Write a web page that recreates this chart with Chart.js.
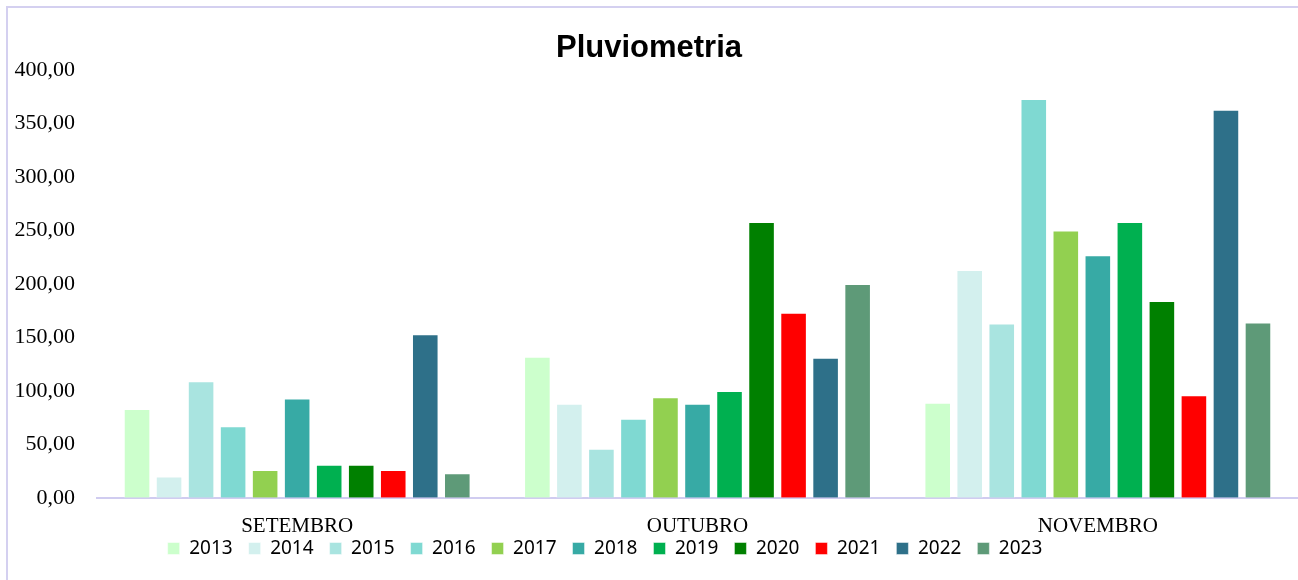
<!DOCTYPE html>
<html>
<head>
<meta charset="utf-8">
<script src="https://cdn.jsdelivr.net/npm/chart.js@4"></script>
<style>
  body { margin: 0; background: #fff; }
  #frame { position: absolute; left: 6px; top: 6px; width: 1292px; height: 574px;
           border-top: 2px solid #d4d0f0; border-left: 2px solid #d4d0f0; box-sizing: border-box; }
  #myChart { position: absolute; left: 0; top: 0; }
</style>
</head>
<body>
<div id="frame"></div>
<canvas id="myChart" width="1298" height="580"></canvas>
<script>
// months on the x axis
var months = ['SETEMBRO', 'OUTUBRO', 'NOVEMBRO'];

// rainfall per year [set, out, nov]
var y2013 = [83, 132, 89];
var y2014 = [20, 88, 213];
var y2015 = [109, 46, 163];
var y2016 = [67, 74, 373];
var y2017 = [26, 94, 250];
var y2018 = [93, 88, 227];
var y2019 = [31, 100, 258];
var y2020 = [31, 258, 184];
var y2021 = [26, 173, 96];
var y2022 = [153, 131, 363];
var y2023 = [23, 200, 164];

var years = ['2013', '2014', '2015', '2016', '2017', '2018', '2019', '2020', '2021', '2022', '2023'];
var values = [y2013, y2014, y2015, y2016, y2017, y2018, y2019, y2020, y2021, y2022, y2023];
var colors = ['#ccffcc', '#d3f0ee', '#a9e4e0', '#7fd9d2', '#92d050', '#37aaa5',
              '#00b050', '#008000', '#ff0000', '#2e7089', '#5e9a78'];

var datasets = years.map(function (y, i) {
  return {
    label: y,
    data: values[i],
    backgroundColor: colors[i],
    borderColor: 'rgba(255,255,255,0.45)',
    borderWidth: 1,
    categoryPercentage: 0.88,
    barPercentage: 0.83
  };
});

// legend sits closer to the month labels than chart.js would put it
var SQUEEZE = 32;
var legendTweak = {
  id: 'legendTweak',
  beforeUpdate: function (chart) {
    var lg = chart.legend;
    if (lg && !lg._squeezed) {
      var fit = lg.fit;
      lg.fit = function () {
        fit.call(this);
        this.height -= SQUEEZE;
      };
      lg._squeezed = true;
    }
  },
  afterUpdate: function (chart) {
    var lg = chart.legend;
    lg.top = lg.bottom - (lg.height + SQUEEZE);
    lg.right -= 88; // shift a bit left, like the original
    lg.adjustHitBoxes();
  }
};

var ctx = document.getElementById('myChart').getContext('2d');

var mychart = new Chart(ctx, {
  type: 'bar',
  data: { labels: months, datasets: datasets },
  plugins: [legendTweak],
  options: {
    responsive: false,
    animation: false,
    layout: { padding: { top: 20, bottom: 12, right: 0, left: 0 } },
    plugins: {
      title: {
        display: true,
        text: 'Pluviometria',
        color: '#000',
        font: { family: 'Liberation Sans', size: 31, weight: 'bold' },
        padding: { top: 10, bottom: 3 }
      },
      legend: {
        position: 'bottom',
        labels: {
          color: '#000',
          boxWidth: 12,
          boxHeight: 12,
          padding: 16,
          font: { family: 'Noto Sans', size: 19 }
        }
      },
      tooltip: { enabled: false }
    },
    scales: {
      x: {
        grid: { display: false, drawTicks: false },
        border: { display: true, color: '#d0ccf0', width: 2 },
        ticks: {
          color: '#000',
          padding: 16,
          font: { family: 'Liberation Serif', size: 21 }
        }
      },
      y: {
        min: 0,
        max: 400,
        afterFit: function (scale) { scale.width = 97; },
        grid: { display: false, drawTicks: false },
        border: { display: false },
        ticks: {
          stepSize: 50,
          color: '#000',
          padding: 22,
          font: { family: 'Liberation Serif', size: 22 },
          callback: function (v) { return v.toFixed(2).replace('.', ','); }
        }
      }
    }
  }
});
</script>
</body>
</html>
